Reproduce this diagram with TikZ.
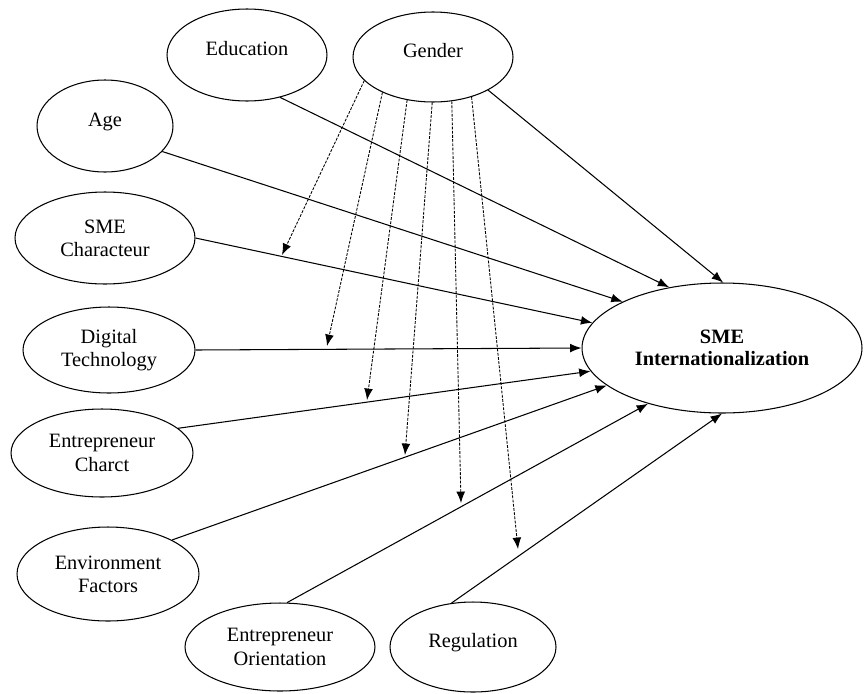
\documentclass[tikz,border=0pt]{standalone}
\usepackage{fontspec}
\setmainfont{Liberation Serif}
\usetikzlibrary{shapes.geometric,arrows.meta}

\begin{document}
\begin{tikzpicture}[x=0.02cm, y=-0.02cm,
    factor/.style={ellipse, draw, line width=0.6pt, inner sep=0pt, align=center, font=\fontsize{11.6}{13.2}\selectfont},
    oneline/.style={text depth=7.5pt},
    link/.style={draw, line width=0.6pt, -{Latex[length=6.5pt,width=5pt]}},
    moder/.style={draw, line width=0.5pt, dash pattern=on 1.6pt off 0.8pt, -{Latex[length=6.5pt,width=5pt]}}]
    \useasboundingbox (0,0) rectangle (864,693);
    % Place nodes
    \node [factor, oneline, minimum width=3.2cm, minimum height=1.84cm] (edu) at (247,55) {Education};
    \node [factor, oneline, minimum width=3.2cm, minimum height=1.8cm] (gen) at (433,57) {Gender};
    \node [factor, oneline, minimum width=2.72cm, minimum height=1.84cm] (age) at (105,126) {Age};
    \node [factor, minimum width=3.6cm, minimum height=1.84cm] (char) at (105,238) {SME\\Characteur};
    \node [factor, minimum width=3.44cm, minimum height=1.72cm] (dig) at (109,350) {Digital\\Technology};
    \node [factor, minimum width=3.64cm, minimum height=1.76cm] (entc) at (102,453) {Entrepreneur\\Charct};
    \node [factor, minimum width=3.64cm, minimum height=1.88cm] (env) at (108,574) {Environment\\Factors};
    \node [factor, minimum width=3.8cm, minimum height=1.76cm] (ento) at (280,647) {Entrepreneur\\Orientation};
    \node [factor, oneline, minimum width=3.32cm, minimum height=1.8cm] (reg) at (473,647) {Regulation};
    \node [factor, minimum width=5.6cm, minimum height=2.6cm, font=\bfseries\fontsize{11.6}{12.5}\selectfont] (sme) at (722,348) {SME\\Internationalization};
    % Moderator ends
    \coordinate (m1) at (282,255);
    \coordinate (m2) at (327,346);
    \coordinate (m3) at (367,400);
    \coordinate (m4) at (405,455);
    \coordinate (m5) at (461,503);
    \coordinate (m6) at (518,549);
    % Direct paths
    \path[link] (gen.329) -- (sme.89);
    \path[link] (edu.308) -- (sme.131);
    \path[link] (age.336) -- (sme.155);
    \path[link] (char.0) -- (sme.169);
    \path[link] (dig.0) -- (sme.180);
    \path[link] (entc.18) -- (sme.190);
    \path[link] (env.28) -- (sme.198);
    \path[link] (ento.81) -- (sme.217);
    \path[link] (reg.116) -- (sme.270);
    % Gender as moderator
    \path[moder] (gen.199) -- (m1);
    \path[moder] (gen.215) -- (m2);
    \path[moder] (gen.239) -- (m3);
    \path[moder] (gen.269) -- (m4);
    \path[moder] (gen.293) -- (m5);
    \path[moder] (gen.314) -- (m6);
\end{tikzpicture}
\end{document}
